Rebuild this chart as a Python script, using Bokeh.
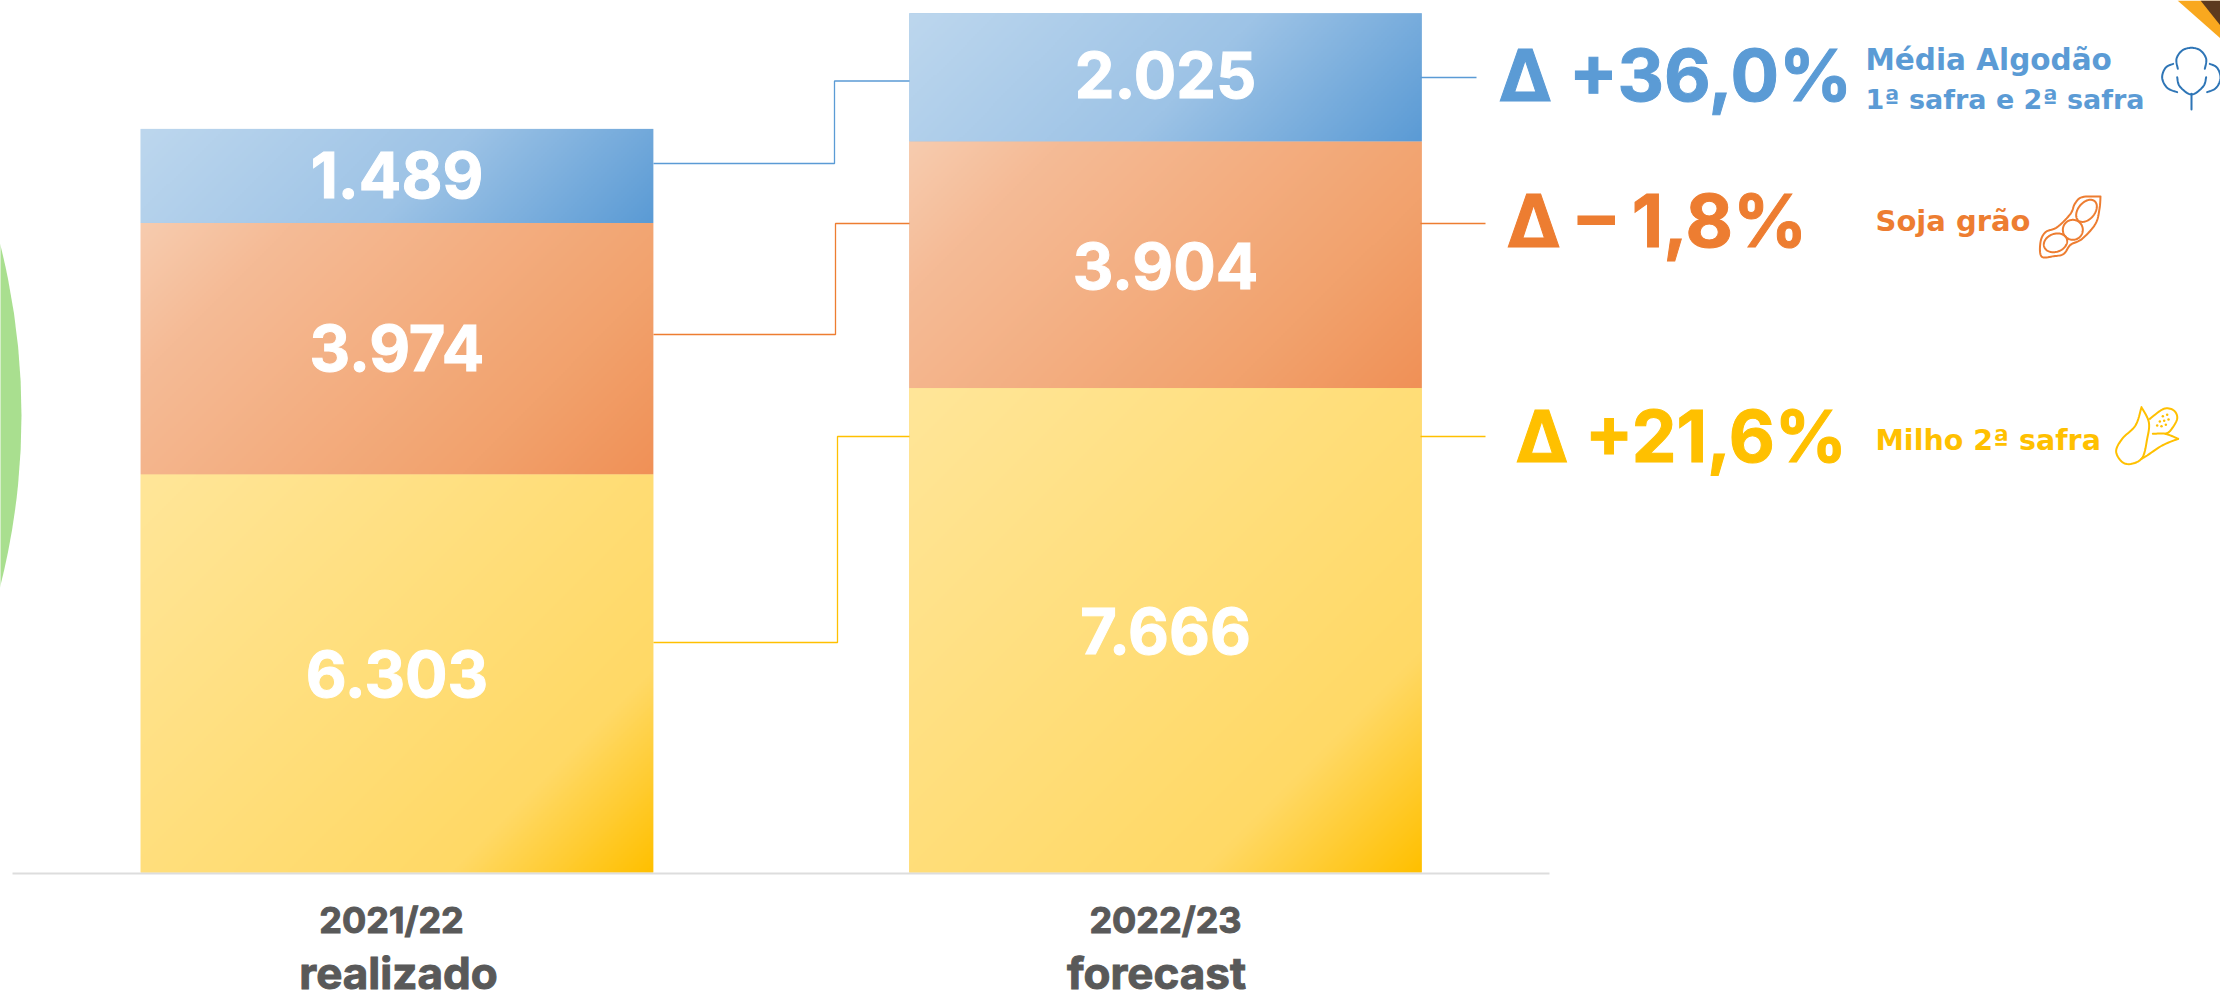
import numpy as np
from bokeh.plotting import figure
from bokeh.models import Range1d
from bokeh.core.properties import value
from bokeh.embed import file_html
from bokeh.resources import INLINE

# ---- data
periods = ["2021/22", "2022/23"]
period_notes = ["realizado", "forecast"]
milho = [6303, 7666]
soja = [3974, 3904]
algodao = [1489, 2025]
milho_labels = ["6.303", "7.666"]
soja_labels = ["3.974", "3.904"]
algodao_labels = ["1.489", "2.025"]
delta_labels = ["Δ +36,0%", "Δ – 1,8%", "Δ +21,6%"]

W, H = 2220, 1002
BASE = 872
K = 0.0632
FONT = "Inter"
BLUE, ORANGE, YELLOW = "#5B9BD5", "#ED7D31", "#FFC000"
GREY = "#595959"

p = figure(width=W, height=H, output_backend="svg", toolbar_location=None,
           x_range=Range1d(0, W), y_range=Range1d((BASE - H) / K, BASE / K),
           min_border=0, outline_line_color=None, background_fill_color="white")
p.extra_y_ranges["px"] = Range1d(H, 0)
p.axis.visible = False
p.grid.visible = False

bar_x = [396.5, 1165]
bar_w = 512.5


def hex_rgb(c):
    return [int(c[i:i + 2], 16) for i in (1, 3, 5)]


def gradient(stops, w, h):
    nx, ny = int(w / 2), max(int(h / 2), 2)
    xx, yy = np.meshgrid(np.linspace(0, w, nx), np.linspace(0, h, ny))
    t = (xx + yy) / (w + h)
    ts = [s[0] for s in stops]
    cols = np.array([hex_rgb(s[1]) for s in stops], dtype=float)
    out = np.zeros((ny, nx), dtype=np.uint32)
    view = out.view(np.uint8).reshape((ny, nx, 4))
    for i in range(3):
        view[:, :, i] = np.interp(t, ts, cols[:, i]).astype(np.uint8)
    view[:, :, 3] = 255
    return out[::-1]


ramps = [
    ([(0, "#FFE699"), (0.78, "#FFD966"), (1, "#FFC000")], milho),
    ([(0, "#F7CCAF"), (0.2, "#F5BB96"), (0.75, "#F2A26D"), (1, "#F09157")], soja),
    ([(0, "#BDD7EE"), (0.55, "#9DC3E6"), (1, "#5B9BD5")], algodao),
]
bottom = [0, 0]
for stops, vals in ramps:
    p.vbar(x=bar_x, width=bar_w, bottom=bottom, top=[b + v for b, v in zip(bottom, vals)],
           fill_color=stops[1][1], line_color=None)
    for i in range(2):
        img = gradient(stops, bar_w, vals[i] * K)
        p.image_rgba(image=[img], x=bar_x[i] - bar_w / 2, y=bottom[i], dw=bar_w, dh=vals[i])
    bottom = [b + v for b, v in zip(bottom, vals)]

# baseline
p.line([12, 1549], [873, 873], y_range_name="px", line_color="#DDDDDD", line_width=2)

# connectors
for xs, ys, c in [
    ([653, 834, 834, 909], [163, 163, 80.5, 80.5], BLUE),
    ([653, 835, 835, 909], [334, 334, 223, 223], ORANGE),
    ([653, 837, 837, 909], [642, 642, 436, 436], YELLOW),
    ([1420, 1476], [77, 77], BLUE),
    ([1420, 1485], [223, 223], ORANGE),
    ([1420, 1485], [436, 436], YELLOW),
]:
    p.line(xs, ys, y_range_name="px", line_color=c, line_width=1.3)

# decorations
p.circle(x=[-678], y=[415], radius=699, y_range_name="px", fill_color="#A9DF8F", line_color=None)
p.patch([2177, 2220, 2220], [0, 38, 0], y_range_name="px", fill_color="#F9A81F", line_color=None)
p.patch([2200, 2220, 2220], [0, 25, 0], y_range_name="px", fill_color="#5C3A1E", line_color=None)


def txt(x, y, s, size, color, align="center", font=FONT, outline=True):
    p.text([x], [y - 0.39 * size], text=[s], y_range_name="px", text_font=value(font),
           text_font_style="bold", text_font_size=f"{size}px", text_color=color,
           text_align=align, text_baseline="alphabetic",
           text_outline_color=color if outline else None)


for i, y in enumerate([199, 99]):
    txt(bar_x[i], y, algodao_labels[i], 63, "white")
for i, y in enumerate([372, 290]):
    txt(bar_x[i], y, soja_labels[i], 63, "white")
for i, y in enumerate([698, 655]):
    txt(bar_x[i], y, milho_labels[i], 63, "white")

txt(391, 934, periods[0], 36, GREY)
txt(1165, 934, periods[1], 36, GREY)
txt(398, 990, period_notes[0], 44, GREY)
txt(1156, 990, period_notes[1], 44, GREY)

txt(1498, 102, delta_labels[0], 72, BLUE, "left")
txt(1506, 248, delta_labels[1], 73, ORANGE, "left")
txt(1515, 463, delta_labels[2], 71, YELLOW, "left")

SIDE = "DejaVu Sans"
txt(1865, 71, "Média Algodão", 29.5, BLUE, "left", SIDE, False)
txt(1865, 110, "1ª safra e 2ª safra", 27, BLUE, "left", SIDE, False)
txt(1875, 232, "Soja grão", 29, ORANGE, "left", SIDE, False)
txt(1875, 451, "Milho 2ª safra", 28.5, YELLOW, "left", SIDE, False)


# ---- icons, traced in crop coordinates (3x) from an origin
def smooth(pts, closed=False):
    a = np.array(pts, dtype=float)
    if closed:
        a = np.vstack([a[-1], a, a[0], a[1]])
    else:
        a = np.vstack([a[0], a, a[-1]])
    out = []
    for i in range(1, len(a) - 2):
        p0, p1, p2, p3 = a[i - 1], a[i], a[i + 1], a[i + 2]
        for t in np.linspace(0, 1, 10):
            out.append(0.5 * (2 * p1 + (p2 - p0) * t + (2 * p0 - 5 * p1 + 4 * p2 - p3) * t ** 2
                              + (3 * p1 - p0 - 3 * p2 + p3) * t ** 3))
    return np.array(out)


def icon(pts, origin, color, closed=False, lw=2.0):
    c = smooth(pts, closed)
    p.line(c[:, 0] / 3 + origin[0], c[:, 1] / 3 + origin[1], y_range_name="px",
           line_color=color, line_width=lw, line_cap="round", line_join="round")


def ell(cx, cy, a, b, deg):
    th = np.radians(np.arange(0, 360, 30))
    r = np.radians(deg)
    return list(zip(cx + a * np.cos(th) * np.cos(r) - b * np.sin(th) * np.sin(r),
                    cy + a * np.cos(th) * np.sin(r) + b * np.sin(th) * np.cos(r)))


CO = (2150, 30)
COT = "#2E75B6"
icon([(82, 115), (78, 85), (95, 60), (123, 52), (150, 60), (167, 85), (163, 115)], CO, COT)
icon([(68, 100), (45, 112), (35, 142), (50, 172), (80, 185)], CO, COT)
icon([(178, 100), (200, 112), (210, 142), (197, 172), (170, 185)], CO, COT)
icon([(80, 140), (88, 168), (123, 192), (158, 168), (167, 140)], CO, COT)
icon([(123, 190), (123, 237)], CO, COT)

SO = (2025, 185)
icon([(225, 33), (170, 35), (148, 55), (135, 85), (95, 125), (60, 140), (45, 170), (48, 213),
      (85, 212), (115, 205), (135, 178), (170, 160), (210, 115), (222, 70), (225, 33)], SO, ORANGE)
icon(ell(183, 76, 38, 25, -50), SO, ORANGE, closed=True)
icon(ell(142, 133, 30, 30, 0), SO, ORANGE, closed=True)
icon(ell(90, 172, 36, 27, -20), SO, ORANGE, closed=True)

MO = (2105, 395)
icon([(108, 35), (130, 80), (125, 130), (108, 190), (60, 205), (32, 170), (50, 130), (90, 90), (108, 35)], MO, YELLOW)
icon([(133, 70), (175, 40), (205, 45), (215, 70), (195, 105), (180, 115)], MO, YELLOW)
icon([(142, 115), (180, 115), (218, 130)], MO, YELLOW)
icon([(218, 130), (170, 150), (125, 180), (108, 190)], MO, YELLOW)
dx = [155, 168, 181, 163, 176, 189, 172, 185]
dy = [90, 92, 88, 78, 76, 72, 62, 58]
p.scatter(np.array(dx) / 3 + MO[0], np.array(dy) / 3 + MO[1], y_range_name="px", size=2.5,
          fill_color=YELLOW, line_color=None)

open("out.html", "w").write(file_html(p, INLINE))
